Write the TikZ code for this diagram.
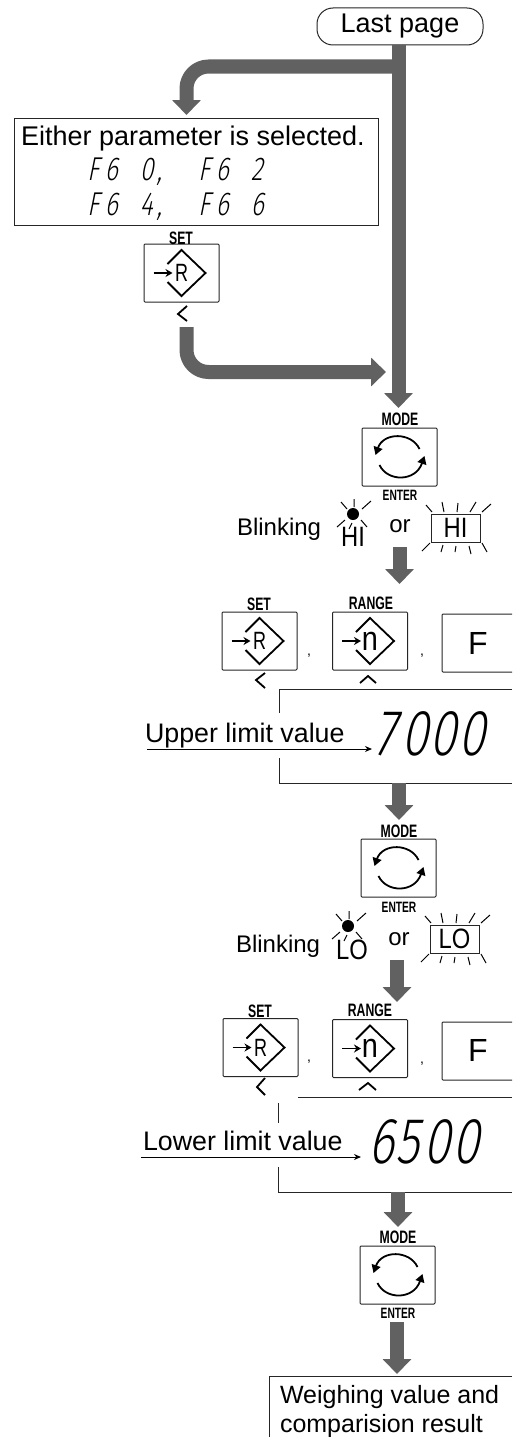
\documentclass[tikz,border=0pt]{standalone}
\usepackage{fontspec}
\usetikzlibrary{arrows.meta}
\setmainfont{Liberation Sans}
\newfontfamily\keyfont[FakeStretch=0.68]{Liberation Sans}
\newfontfamily\hifont[FakeStretch=0.85]{Liberation Sans}
\newfontfamily\rfont[FakeStretch=0.72]{Liberation Sans}
\newfontfamily\nfont[FakeStretch=0.85]{Liberation Sans}
\newfontfamily\lcdfont[FakeStretch=0.75,FakeSlant=0.2]{Fira Sans Light}
\newcommand{\fs}[1]{\fontsize{#1}{#1}\selectfont}
\newcommand{\lcdcell}[2]{\makebox[#1pt][l]{#2}}
\tikzset{
  frame/.style={draw=black!85,line width=1pt},
  keybox/.style={frame,rounded corners=1pt,minimum width=75pt,minimum height=58pt,inner sep=0pt},
  lbl/.style={inner sep=0pt,outer sep=0pt},
  toplabel/.style={lbl,font=\keyfont\bfseries\fs{18}},
  entlabel/.style={lbl,font=\keyfont\bfseries\fs{15}},
  body/.style={lbl,anchor=base west},
  flow/.style={draw=black!62,line width=14pt,-{Triangle[width=28pt,length=15pt]},line join=round},
  thin/.style={draw=black,line width=1pt,-{Stealth[length=7pt,width=6pt]}},
  icon/.style={draw=black,line width=1.8pt},
  ray/.style={draw=black,line width=1pt},
  hitext/.style={lbl,font=\hifont\fs{28}},
  lcdbig/.style={body,font=\lcdfont\fs{65}},
  lcdsmall/.style={body,font=\lcdfont\fs{33}},
  fkey/.style={lbl,font=\fs{32}},
  modeicon/.pic={
    \draw[icon,-{Triangle[width=9pt,length=8pt]}] (20,-8) .. controls (12,-25) and (-16,-25) .. (-24,-2);
    \draw[icon,-{Triangle[width=9pt,length=8pt]}] (-20,8) .. controls (-12,25) and (16,25) .. (25,-1);
  },
  setdiamond/.pic={
    \draw[icon,line join=miter] (-14,-9) -- (0,-23) -- (24,0) -- (0,23) -- (-14,9);
    \draw[icon,-{Stealth[length=7pt,width=8pt]}] (-28,0) -- (-9,0);
  },
  boxrays/.pic={
    \draw[ray] (-29.5,-23)--(-23.5,-16) (-13.5,-26)--(-11.5,-16) (2.5,-25)--(1.5,-16) (20.5,-26)--(14.5,-16) (35.5,-24)--(26.5,-16)
      (-25.5,15)--(-33.5,23) (-12.5,17)--(-14.5,24) (0.5,18)--(-0.5,24) (13.5,18)--(15.5,26) (26.5,15)--(31.5,24);
  },
  bulb/.pic={
    \fill[black] (0,0) circle (6pt);
    \draw[ray] (-12,-12)--(-6,-5) (1,-15)--(1,-7) (18,-13)--(9,-5)
      (-8,6)--(-16,13) (8,6)--(14,13) (-1,9)--(-4,15);
  },
}
\begin{document}
\begin{tikzpicture}[x=1pt,y=-1pt]
\useasboundingbox[fill=white] (0,0) rectangle (512,1437);
% named end points of the thick arrows
\coordinate (t1) at (398.5,408);
\coordinate (j1) at (398.5,66.5);
\coordinate (t2) at (186.5,115);
\coordinate (e0) at (186.5,327);
\coordinate (e1) at (386,372);
\coordinate (t3) at (399.5,584);
\coordinate (t4) at (399,820);
\coordinate (t5) at (397,1002);
\coordinate (t6) at (398,1227);
\coordinate (t7) at (397,1374);
\coordinate (s3) at (399.5,547);
\coordinate (s5) at (397,960);
\coordinate (s7) at (397,1322);

% start
\node[frame,rounded corners=16pt,minimum width=166pt,minimum height=37pt,inner sep=0pt] (lastpage) at (400,26.5) {};
\node[lbl,font=\fs{27}] at (400,26) {Last page};

% parameter box
\node[frame,minimum width=364pt,minimum height=107pt,inner sep=0pt] (box1) at (196,171.5) {};
\node[body,font=\fs{27}] (either) at (21,145) {Either parameter is selected.};
\node[lcdsmall] (p0) at (87,180) {\lcdcell{18}{F}\lcdcell{35}{6}\lcdcell{17}{0},};
\node[lcdsmall] (p2) at (198,180) {\lcdcell{18}{F}\lcdcell{35}{6}2};
\node[lcdsmall] (p4) at (87,215) {\lcdcell{18}{F}\lcdcell{35}{6}\lcdcell{17}{4},};
\node[lcdsmall] (p6) at (198,215) {\lcdcell{18}{F}\lcdcell{35}{6}6};

% SET key, top
\node[keybox] (set0) at (181.5,273) {};
\pic at (set0.center) {setdiamond};
\node[lbl,font=\rfont\fs{25}] at (set0.center) {R};
\node[toplabel] at (181,238) {SET};
\draw[icon] (187,306) -- (178,314) -- (187,321);

% thick arrows, upper part
\draw[flow] (lastpage.south -| t1) -- (t1);
\draw[flow,rounded corners=22pt] (j1) -| (t2);
\draw[flow,rounded corners=22pt] (e0) |- (e1);

% MODE 1
\node[keybox] (mode1) at (399.5,457) {};
\pic at (mode1.center) {modeicon};
\node[toplabel] at (400,419) {MODE};
\node[entlabel] at (400,495) {ENTER};

% Blinking HI
\node[body,font=\fs{24}] (blink1) at (237,535) {Blinking};
\pic at (353,514) {bulb};
\node[hitext] at (353,537) {HI};
\node[lbl,font=\fs{24}] (or1) at (400,526) {or};
\node[frame,minimum width=49pt,minimum height=28pt,inner sep=0pt] (hibox) at (455.5,528) {};
\node[hitext] at (hibox.center) {HI};
\pic at (hibox.center) {boxrays};
\draw[flow] (s3) -- (t3);

% row 2
\node[toplabel] at (259,604) {SET};
\node[keybox] (set1) at (259.5,641) {};
\pic at (set1.center) {setdiamond};
\node[lbl,font=\rfont\fs{25}] at (set1.center) {R};
\draw[icon] (265,673) -- (256,680) -- (265,688);
\node[lbl,font=\fs{14}] at (309,656) {,};
\node[toplabel] at (371,603) {RANGE};
\node[keybox] (range1) at (370,641) {};
\pic at (range1.center) {setdiamond};
\node[lbl,font=\nfont\fs{34}] at (range1.center) {n};
\draw[icon] (360,683) -- (368,676) -- (376,683);
\node[lbl,font=\fs{14}] at (422,656) {,};
\draw[frame] (512,614) -- (443,614) -- (442,615) -- (442,671) -- (443,672) -- (512,672);
\node[fkey] (f1) at (478,643) {F};

% upper limit display
\draw[frame] (512,689) -- (279,689) -- (279,713);
\draw[frame] (279,758) -- (279,783) -- (512,783);
\node[body,font=\fs{26.8}] (upper) at (145,742) {Upper limit value};
\coordinate (u0) at (147,749);
\coordinate (u1) at (372,749);
\draw[thin] (u0) -- (u1);
\node[lcdbig] (v7000) at (374,755) {\lcdcell{28}{7}\lcdcell{28}{0}\lcdcell{28}{0}0};
\draw[flow] (399,783) -- (t4);

% MODE 2
\node[keybox] (mode2) at (398.5,868) {};
\pic at (mode2.center) {modeicon};
\node[toplabel] at (399,831) {MODE};
\node[entlabel] at (399,907) {ENTER};

% Blinking LO
\node[body,font=\fs{24}] (blink2) at (236,952) {Blinking};
\pic at (348,926) {bulb};
\node[hitext] at (352,950) {LO};
\node[lbl,font=\fs{24}] (or2) at (399,939) {or};
\node[frame,minimum width=49pt,minimum height=28pt,inner sep=0pt] (lobox) at (454.5,939) {};
\node[hitext] at (lobox.center) {LO};
\pic at (lobox.center) {boxrays};
\draw[flow] (s5) -- (t5);

% row 3
\node[toplabel] at (260,1011) {SET};
\node[keybox] (set2) at (260.5,1047.5) {};
\pic at (set2.center) {setdiamond};
\node[lbl,font=\rfont\fs{25}] at (set2.center) {R};
\draw[icon] (265,1078) -- (257,1087) -- (265,1095);
\node[lbl,font=\fs{14}] at (309,1062) {,};
\node[toplabel] at (370,1010) {RANGE};
\node[keybox] (range2) at (370,1048.5) {};
\pic at (range2.center) {setdiamond};
\node[lbl,font=\nfont\fs{34}] at (range2.center) {n};
\draw[icon] (359,1090) -- (368,1083) -- (376,1090);
\node[lbl,font=\fs{14}] at (422,1064) {,};
\draw[frame] (512,1022) -- (443,1022) -- (442,1023) -- (442,1079) -- (443,1080) -- (512,1080);
\node[fkey] (f2) at (478,1050) {F};

% lower limit display
\draw[frame] (298,1097) -- (512,1097);
\draw[frame] (278,1103) -- (278,1123);
\draw[frame] (278,1167) -- (278,1192) -- (512,1192);
\node[body,font=\fs{26.8}] (lower) at (143,1150) {Lower limit value};
\coordinate (l0) at (141,1157);
\coordinate (l1) at (361,1157);
\draw[thin] (l0) -- (l1);
\node[lcdbig] (v6500) at (368,1163) {\lcdcell{28}{6}\lcdcell{28}{5}\lcdcell{28}{0}0};
\draw[flow] (398,1192) -- (t6);

% MODE 3
\node[keybox] (mode3) at (397.5,1275) {};
\pic at (mode3.center) {modeicon};
\node[toplabel] at (398,1237) {MODE};
\node[entlabel] at (398,1313) {ENTER};
\draw[flow] (s7) -- (t7);

% result
\draw[frame] (269,1437) -- (269,1376) -- (512,1376);
\node[lbl,anchor=north west,align=left,font=\fontsize{25}{29}\selectfont] (result) at (280,1385) {Weighing value and\\comparision result};
\end{tikzpicture}
\end{document}
